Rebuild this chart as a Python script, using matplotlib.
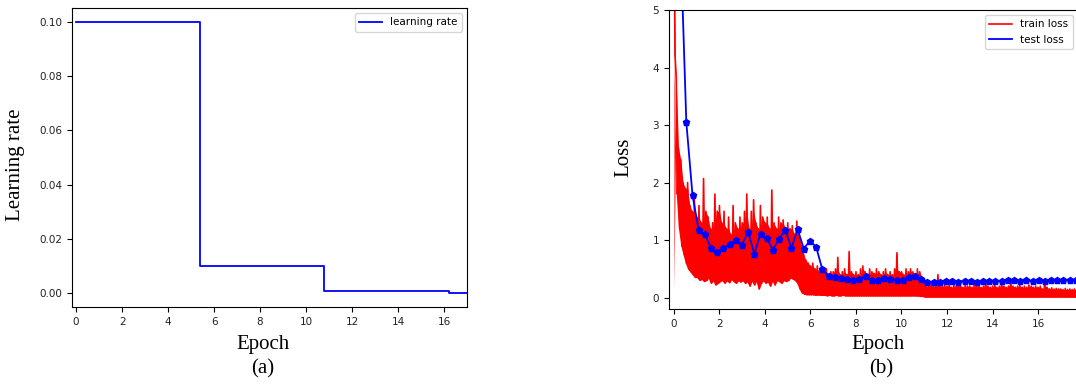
import numpy as np
import matplotlib.pyplot as plt

# learning rate schedule (step decay)
lr_epochs = [0, 5.4, 10.8, 16.2, 17.0]
lr_values = [0.1, 0.01, 0.001, 0.0001, 0.0001]

# train loss, read as upper / lower edges every 0.1 epoch
train_step = 0.1
train_upper = [
    6.5, 3.8, 2.6, 2.4, 2.0, 1.9, 2.0, 1.6, 1.5, 1.7,
    1.4, 1.6, 1.3, 2.07, 1.5, 1.4, 1.2, 1.3, 1.8, 1.5,
    1.6, 1.3, 1.5, 1.2, 1.4, 1.1, 1.6, 1.3, 1.2, 1.4,
    1.3, 1.5, 1.8, 1.2, 1.5, 1.7, 1.3, 1.2, 1.6, 1.4,
    1.3, 1.4, 1.2, 1.87, 1.3, 1.2, 1.4, 1.3, 1.35, 1.2,
    1.3, 1.2, 1.25, 1.1, 1.33, 1.1, 0.9, 0.75, 0.65, 0.6,
    0.55, 0.6, 0.5, 0.55, 0.45, 0.5, 0.45, 0.5, 0.4, 0.45,
    0.45, 0.5, 0.7, 0.4, 0.45, 0.5, 0.4, 0.8, 0.45, 0.4,
    0.45, 0.4, 0.5, 0.55, 0.45, 0.4, 0.5, 0.45, 0.42, 0.5,
    0.45, 0.4, 0.45, 0.5, 0.4, 0.45, 0.4, 0.5, 0.78, 0.45,
    0.45, 0.4, 0.5, 0.45, 0.5, 0.45, 0.4, 0.5, 0.45, 0.35,
    0.25, 0.2, 0.2, 0.25, 0.2, 0.22, 0.4, 0.2, 0.2, 0.22,
    0.2, 0.25, 0.18, 0.22, 0.2, 0.3, 0.2, 0.18, 0.22, 0.2,
    0.2, 0.18, 0.25, 0.2, 0.22, 0.18, 0.2, 0.28, 0.2, 0.18,
    0.2, 0.22, 0.18, 0.2, 0.25, 0.2, 0.18, 0.2, 0.3, 0.2,
    0.18, 0.2, 0.22, 0.18, 0.2, 0.18, 0.22, 0.2, 0.18, 0.2,
    0.18, 0.2, 0.15, 0.32, 0.18, 0.15, 0.17, 0.15, 0.16, 0.15,
    0.15, 0.14, 0.16, 0.14, 0.15, 0.14, 0.15, 0.14,
]
train_lower = [
    4.2, 1.8, 1.2, 0.9, 0.75, 0.6, 0.5, 0.45, 0.4, 0.35,
    0.35, 0.3, 0.32, 0.28, 0.3, 0.35, 0.25, 0.3, 0.22, 0.25,
    0.28, 0.3, 0.25, 0.3, 0.26, 0.32, 0.28, 0.25, 0.3, 0.27,
    0.3, 0.25, 0.28, 0.2, 0.3, 0.22, 0.3, 0.15, 0.25, 0.3,
    0.25, 0.28, 0.2, 0.3, 0.22, 0.3, 0.28, 0.25, 0.3, 0.28,
    0.3, 0.35, 0.32, 0.3, 0.25, 0.15, 0.08, 0.06, 0.05, 0.05,
    0.05, 0.05, 0.04, 0.05, 0.04, 0.04, 0.04, 0.03, 0.04, 0.03,
    0.03, 0.04, 0.03, 0.03, 0.04, 0.03, 0.03, 0.03, 0.03, 0.03,
    0.03, 0.03, 0.03, 0.03, 0.03, 0.03, 0.03, 0.03, 0.03, 0.03,
    0.03, 0.03, 0.03, 0.03, 0.03, 0.03, 0.03, 0.03, 0.03, 0.03,
    0.03, 0.03, 0.03, 0.03, 0.03, 0.03, 0.03, 0.03, 0.02, 0.02,
    0.01, 0.01, 0.01, 0.01, 0.01, 0.01, 0.01, 0.01, 0.01, 0.01,
    0.01, 0.01, 0.01, 0.01, 0.01, 0.01, 0.01, 0.01, 0.01, 0.01,
    0.01, 0.01, 0.01, 0.01, 0.01, 0.01, 0.01, 0.01, 0.01, 0.01,
    0.01, 0.01, 0.01, 0.01, 0.01, 0.01, 0.01, 0.01, 0.01, 0.01,
    0.01, 0.01, 0.01, 0.01, 0.01, 0.01, 0.01, 0.01, 0.01, 0.01,
    0.01, 0.01, 0.01, 0.01, 0.01, 0.01, 0.01, 0.01, 0.01, 0.01,
    0.01, 0.01, 0.01, 0.01, 0.01, 0.01, 0.01, 0.01,
]

# test loss, evaluated every ~0.272 epoch
test_step = 0.2717
test_loss = [
    6.4, 3.05, 1.78, 1.17, 1.10, 0.86, 0.80, 0.86, 0.93, 1.00,
    0.92, 1.14, 0.76, 1.11, 1.03, 0.83, 1.02, 1.18, 0.86, 1.19,
    0.85, 0.99, 0.88, 0.49, 0.38, 0.35, 0.34, 0.32, 0.31, 0.33,
    0.37, 0.30, 0.31, 0.34, 0.33, 0.30, 0.30, 0.35, 0.37, 0.33,
    0.28, 0.27, 0.28, 0.29, 0.29, 0.28, 0.29, 0.29, 0.28, 0.29,
    0.29, 0.29, 0.29, 0.30, 0.30, 0.29, 0.30, 0.29, 0.30, 0.29,
    0.30, 0.30, 0.30, 0.31, 0.30,
]

label_font = dict(family='Liberation Serif', size=15)

fig = plt.figure(figsize=(10.76, 3.84), dpi=100)

# (a) learning rate
ax1 = fig.add_axes([0.0669, 0.2005, 0.3671, 0.7786])
ax1.plot(lr_epochs, lr_values, color='blue', lw=1.3, drawstyle='steps-post',
         label='learning rate')
ax1.set_xlim(-0.18, 17.0)
ax1.set_ylim(-0.005, 0.105)
ax1.set_xticks(np.arange(0, 17, 2))
ax1.set_yticks(np.arange(0, 0.101, 0.02))
ax1.tick_params(labelsize=7.5, labelcolor='#222222')
ax1.legend(loc='upper right', fontsize=7.5, handlelength=2.2)

# (b) loss
ax2 = fig.add_axes([0.6217, 0.195, 0.3800, 0.779])
n = len(train_upper)
t = np.arange(n) * train_step
x_train = np.ravel(np.column_stack([t, t + train_step / 2]))
y_train = np.ravel(np.column_stack([train_upper, train_lower]))
ax2.fill_between(x_train, y_train, np.interp(x_train, t + train_step / 2, train_lower),
                 color='red', lw=0)
ax2.fill_between(t, train_lower, np.minimum(train_upper, np.roll(train_upper, 1)),
                 color='red', lw=0)
ax2.plot(x_train, y_train, color='red', lw=1.2, label='train loss')
x_test = np.arange(1, len(test_loss) + 1) * test_step
ax2.plot(x_test, test_loss, color='blue', lw=1.3, marker='p', ms=5,
         label='test loss')
ax2.set_xlim(-0.22, 17.75)
ax2.set_ylim(-0.2, 5)
ax2.set_xticks(np.arange(0, 17, 2))
ax2.set_yticks(range(0, 6))
ax2.tick_params(labelsize=7.5, labelcolor='#222222')
ax2.legend(loc='upper right', fontsize=7.5, handlelength=2.2)
leg = ax2.get_legend()
for h in leg.legend_handles:
    h.set_marker('')

fig.text(0.2444, 0.1016, 'Epoch', ha='center', va='center', **label_font)
fig.text(0.2444, 0.039, '(a)', ha='center', va='center', **label_font)
fig.text(0.014, 0.57, 'Learning rate', ha='center', va='center',
         rotation=90, **label_font)
fig.text(0.816, 0.1016, 'Epoch', ha='center', va='center', **label_font)
fig.text(0.819, 0.039, '(b)', ha='center', va='center', **label_font)
fig.text(0.580, 0.59, 'Loss', ha='center', va='center',
         rotation=90, **label_font)

plt.savefig('out.png', dpi=100)
